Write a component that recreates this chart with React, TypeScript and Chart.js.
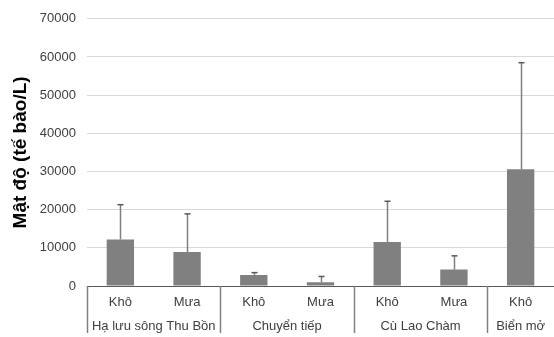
import React, { useEffect, useRef } from "react";
import { Chart, registerables } from "chart.js";

Chart.register(...registerables);

// Season labels (first row of the x axis)
const seasons = ["Khô", "Mưa", "Khô", "Mưa", "Khô", "Mưa", "Khô"];
// Area groups (second row): name, first index, last index
const groupNames = ["Hạ lưu sông Thu Bồn", "Chuyển tiếp", "Cù Lao Chàm", "Biển mở"];
const groupStarts = [0, 2, 4, 6];
const groupEnds = [1, 3, 5, 6];
// Mean density and standard deviation (cells/L)
const means = [12200, 8900, 2900, 1000, 11500, 4300, 30600];
const errors = [9100, 10000, 600, 1500, 10700, 3600, 27900];
const yTicks = [0, 10000, 20000, 30000, 40000, 50000, 60000, 70000];

const FONT = "Arial, 'Liberation Sans', sans-serif";

const errorBarPlugin = {
  id: "errorBars",
  afterDatasetsDraw(chart: any) {
    const meta = chart.getDatasetMeta(0);
    const y = chart.scales.y;
    const ctx = chart.ctx;
    ctx.save();
    meta.data.forEach((bar: any, i: number) => {
      const x = Math.round(bar.x) + 0.5;
      const yTop = y.getPixelForValue(means[i] + errors[i]);
      const yBase = y.getPixelForValue(means[i]);
      ctx.strokeStyle = "#7f7f7f";
      ctx.lineWidth = 1.5;
      ctx.beginPath();
      ctx.moveTo(x, yBase);
      ctx.lineTo(x, yTop);
      ctx.stroke();
      ctx.strokeStyle = "#595959";
      ctx.beginPath();
      ctx.moveTo(x - 3, yTop);
      ctx.lineTo(x + 3, yTop);
      ctx.stroke();
    });
    ctx.restore();
  },
};

const groupAxisPlugin = {
  id: "groupAxis",
  afterDraw(chart: any) {
    const xs = chart.scales.x;
    const area = chart.chartArea;
    const ctx = chart.ctx;
    const half = (xs.getPixelForValue(1) - xs.getPixelForValue(0)) / 2;
    ctx.save();
    groupNames.forEach((name, g) => {
      const left = xs.getPixelForValue(groupStarts[g]) - half;
      const right = xs.getPixelForValue(groupEnds[g]) + half;
      const lx = Math.round(left) + 0.5;
      ctx.strokeStyle = "#808080";
      ctx.lineWidth = 1.5;
      ctx.beginPath();
      ctx.moveTo(lx, area.bottom);
      ctx.lineTo(lx, area.bottom + 47);
      ctx.stroke();
      ctx.fillStyle = "#404040";
      ctx.font = `13px ${FONT}`;
      ctx.textAlign = "center";
      ctx.textBaseline = "middle";
      ctx.fillText(name, (left + right) / 2, area.bottom + 40);
    });
    ctx.restore();
  },
};

export default function App() {
  const canvasRef = useRef<HTMLCanvasElement>(null);

  useEffect(() => {
    if (!canvasRef.current) return;
    const chart = new Chart(canvasRef.current, {
      type: "bar",
      data: {
        labels: seasons,
        datasets: [
          {
            data: means,
            backgroundColor: "#808080",
            borderWidth: 0,
            categoryPercentage: 1,
            barPercentage: 0.41,
          },
        ],
      },
      options: {
        responsive: false,
        animation: false,
        layout: { padding: { top: 17, right: 0, bottom: 0, left: 0 } },
        plugins: {
          legend: { display: false },
          tooltip: { enabled: false },
        },
        scales: {
          x: {
            grid: { display: false, drawTicks: false },
            border: { display: true, color: "#595959", width: 1 },
            ticks: {
              color: "#404040",
              font: { family: FONT, size: 13 },
              padding: 9,
              maxRotation: 0,
            },
            afterFit(scale: any) {
              scale.height = 51;
            },
          },
          y: {
            min: 0,
            max: 70000,
            afterBuildTicks(scale: any) {
              scale.ticks = yTicks.map((v) => ({ value: v }));
            },
            grid: {
              color: (c: any) => (c.tick && c.tick.value === 0 ? "rgba(0,0,0,0)" : "#d9d9d9"),
              lineWidth: 1,
              drawTicks: false,
            },
            border: { display: false },
            ticks: {
              color: "#404040",
              font: { family: FONT, size: 13 },
              padding: 11,
              callback: (v: any) => String(v),
            },
            title: {
              display: true,
              text: "Mật độ (tế bào/L)",
              color: "#000000",
              font: { family: FONT, size: 19, weight: "bold" },
              padding: { top: 9, bottom: 0 },
            },
            afterFit(scale: any) {
              scale.width = 87;
            },
          },
        },
      },
      plugins: [errorBarPlugin, groupAxisPlugin],
    });
    return () => chart.destroy();
  }, []);

  return (
    <div style={{ position: "fixed", left: 0, top: 0, width: 554, height: 337, background: "#ffffff" }}>
      <canvas ref={canvasRef} width={554} height={337} style={{ display: "block" }} />
    </div>
  );
}
